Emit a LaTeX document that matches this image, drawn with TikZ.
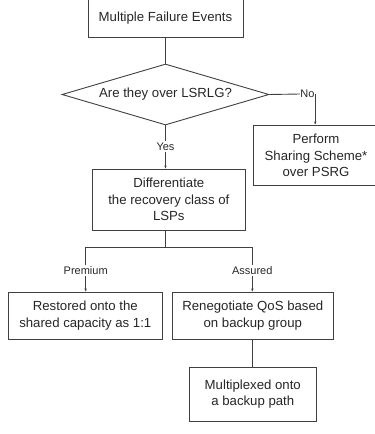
\documentclass[tikz,border=0pt]{standalone}
\usepackage{fontspec}
\setmainfont{Liberation Sans}
\usetikzlibrary{shapes.geometric,arrows.meta}
\definecolor{ln}{HTML}{404040}
\definecolor{tx}{HTML}{262626}
\tikzset{
  box/.style={draw=ln, line width=0.9pt, rectangle, inner sep=0pt, align=center, text=tx,
              font=\fontsize{13.2}{16.5}\selectfont},
  lbl/.style={inner sep=1.5pt, text=tx, font=\fontsize{11}{13}\selectfont},
  con/.style={draw=ln, line width=0.9pt},
  arr/.style={con, -{Stealth[length=3pt,width=2.4pt]}}
}
\begin{document}
\begin{tikzpicture}[x=1pt,y=-1pt]
\useasboundingbox (0,0) rectangle (375,434);
\node[box, minimum width=155pt, minimum height=40pt] (top) at (165.5,17) {};
\node[text=tx, font=\fontsize{13.2}{16.5}\selectfont, inner sep=0pt] (toptext) at (165.5,18.3) {Multiple Failure Events};
\node[box, shape=diamond, aspect=3.39, minimum width=207pt, minimum height=61pt] (d) at (165.5,94.5) {Are they over LSRLG?};
\node[lbl, inner sep=0.5pt] (no) at (307.5,94) {No};
\node[box, minimum width=126pt, minimum height=60.7pt] (p) at (316,155.3) {Perform\\Sharing Scheme*\\over PSRG};
\node[lbl] (yes) at (165.5,146.7) {Yes};
\node[box, minimum width=153.7pt, minimum height=61pt] (diff) at (168.8,199.5) {Differentiate\\the recovery class of\\LSPs};
\coordinate (split) at (165.5,247.3);
\coordinate (lsplit) at (85.7,247.3);
\coordinate (rsplit) at (252.3,247.3);
\node[lbl] (prem) at (85.7,270.3) {Premium};
\node[lbl] (ass) at (252.3,270.3) {Assured};
\node[box, minimum width=154.7pt, minimum height=47.5pt] (rest) at (85.3,315.7) {Restored onto the\\shared capacity as 1:1};
\node[box, minimum width=161pt, minimum height=47.5pt] (reneg) at (252.8,315.7) {Renegotiate QoS based\\on backup group};
\node[box, minimum width=127.7pt, minimum height=54pt] (mult) at (252.8,394) {Multiplexed onto\\a backup path};
\draw[con] (top.south) -- (d.north);
\draw[con] (d.east) -- (no.west);
\draw[arr] (no.east) -- (no.east |- p.north);
\draw[con] (d.south) -- (yes.north);
\draw[arr] (yes.south) -- (yes.south |- diff.north);
\draw[con] (diff.south -| split) -- (split);
\draw[con] (lsplit) -- (rsplit);
\draw[con] (lsplit) -- (prem.north -| lsplit);
\draw[con] (rsplit) -- (ass.north -| rsplit);
\draw[arr] (prem.south -| lsplit) -- (rest.north -| lsplit);
\draw[arr] (ass.south -| rsplit) -- (reneg.north -| rsplit);
\draw[con] (reneg.south -| rsplit) -- (mult.north -| rsplit);
\end{tikzpicture}
\end{document}
